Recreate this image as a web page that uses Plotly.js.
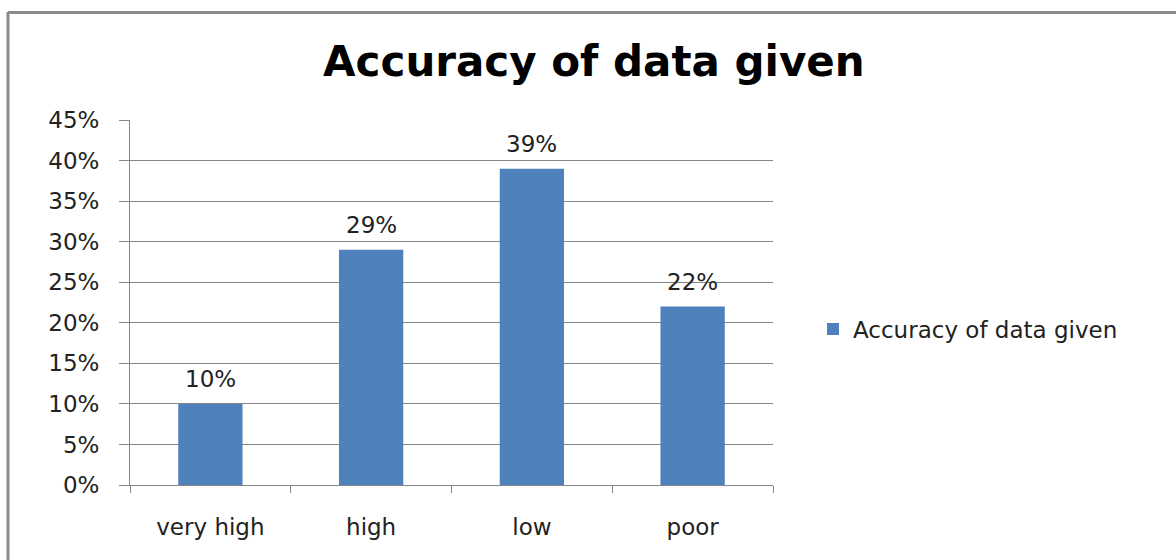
<!DOCTYPE html>
<html>
<head>
<meta charset="utf-8">
<script src="https://cdn.plot.ly/plotly-3.0.1.min.js"></script>
<style>
html,body{margin:0;padding:0;background:#fff;}
#chart{width:1176px;height:560px;}
</style>
</head>
<body>
<div id="chart"></div>
<script>
var categories = ["very high", "high", "low", "poor"];
var values = [0.10, 0.29, 0.39, 0.22];
var labels = ["10%", "29%", "39%", "22%"];
var seriesName = "Accuracy of data given";
var chartTitle = "Accuracy of data given";
var tickVals = [0, 0.05, 0.10, 0.15, 0.20, 0.25, 0.30, 0.35, 0.40, 0.45];
var tickText = ["0%", "5%", "10%", "15%", "20%", "25%", "30%", "35%", "40%", "45%"];

var FONT = "DejaVu Sans, Verdana, sans-serif";
var FS = 23;
var L = 130, R = 403, T = 120, B = 75, W = 1176, H = 560;
var pw = W - L - R, ph = H - T - B;

var trace = {
  type: "bar",
  x: categories,
  y: values,
  name: seriesName,
  marker: {color: "#4F81BD"},
  width: 0.4,
  showlegend: true,
  hoverinfo: "x+y"
};

var annotations = categories.map(function(c, i){
  return {x: c, y: values[i], xref: "x", yref: "y", text: labels[i],
    showarrow: false, yanchor: "bottom", yshift: 10,
    font: {family: FONT, size: FS, color: "#222"}};
});

var layout = {
  width: W, height: H,
  margin: {l: L, r: R, t: T, b: B, pad: 0},
  paper_bgcolor: "#fff", plot_bgcolor: "#fff",
  title: {text: "<b>" + chartTitle + "</b>", x: 0.505, xanchor: "center", y: 0.89, yanchor: "middle",
    font: {family: FONT, size: 42, color: "#000"}},
  bargap: 0.6,
  xaxis: {type: "category", showgrid: false, showline: true, linecolor: "#868686", linewidth: 1,
    ticks: "outside", tickson: "boundaries", ticklen: 7, tickcolor: "#868686",
    ticklabelstandoff: 21,
    tickfont: {family: FONT, size: FS, color: "#222"}, fixedrange: true},
  yaxis: {range: [0, 0.45], tickvals: tickVals, ticktext: tickText, showgrid: true,
    gridcolor: "#868686", gridwidth: 1, showline: true, linecolor: "#868686", linewidth: 1,
    ticks: "outside", ticklen: 10, tickcolor: "#868686", zeroline: false,
    ticklabelstandoff: 15,
    tickfont: {family: FONT, size: FS, color: "#222"}, fixedrange: true},
  legend: {x: (813 - L) / pw, y: (H - B - 329) / ph, xanchor: "left", yanchor: "middle",
    font: {family: FONT, size: FS, color: "#222"}, bgcolor: "rgba(0,0,0,0)",
    itemwidth: 30},
  annotations: annotations,
  shapes: [
    {type: "line", xref: "paper", yref: "paper",
      x0: (8 - L) / pw, x1: (8 - L) / pw, y0: (H - B - 12) / ph, y1: (H - B - 600) / ph,
      line: {color: "#8a8a8a", width: 3}},
    {type: "line", xref: "paper", yref: "paper",
      x0: (8 - L) / pw, x1: (1200 - L) / pw, y0: (H - B - 12.5) / ph, y1: (H - B - 12.5) / ph,
      line: {color: "#8a8a8a", width: 3}}
  ]
};

Plotly.newPlot("chart", [trace], layout, {displayModeBar: false, staticPlot: true});
</script>
</body>
</html>
